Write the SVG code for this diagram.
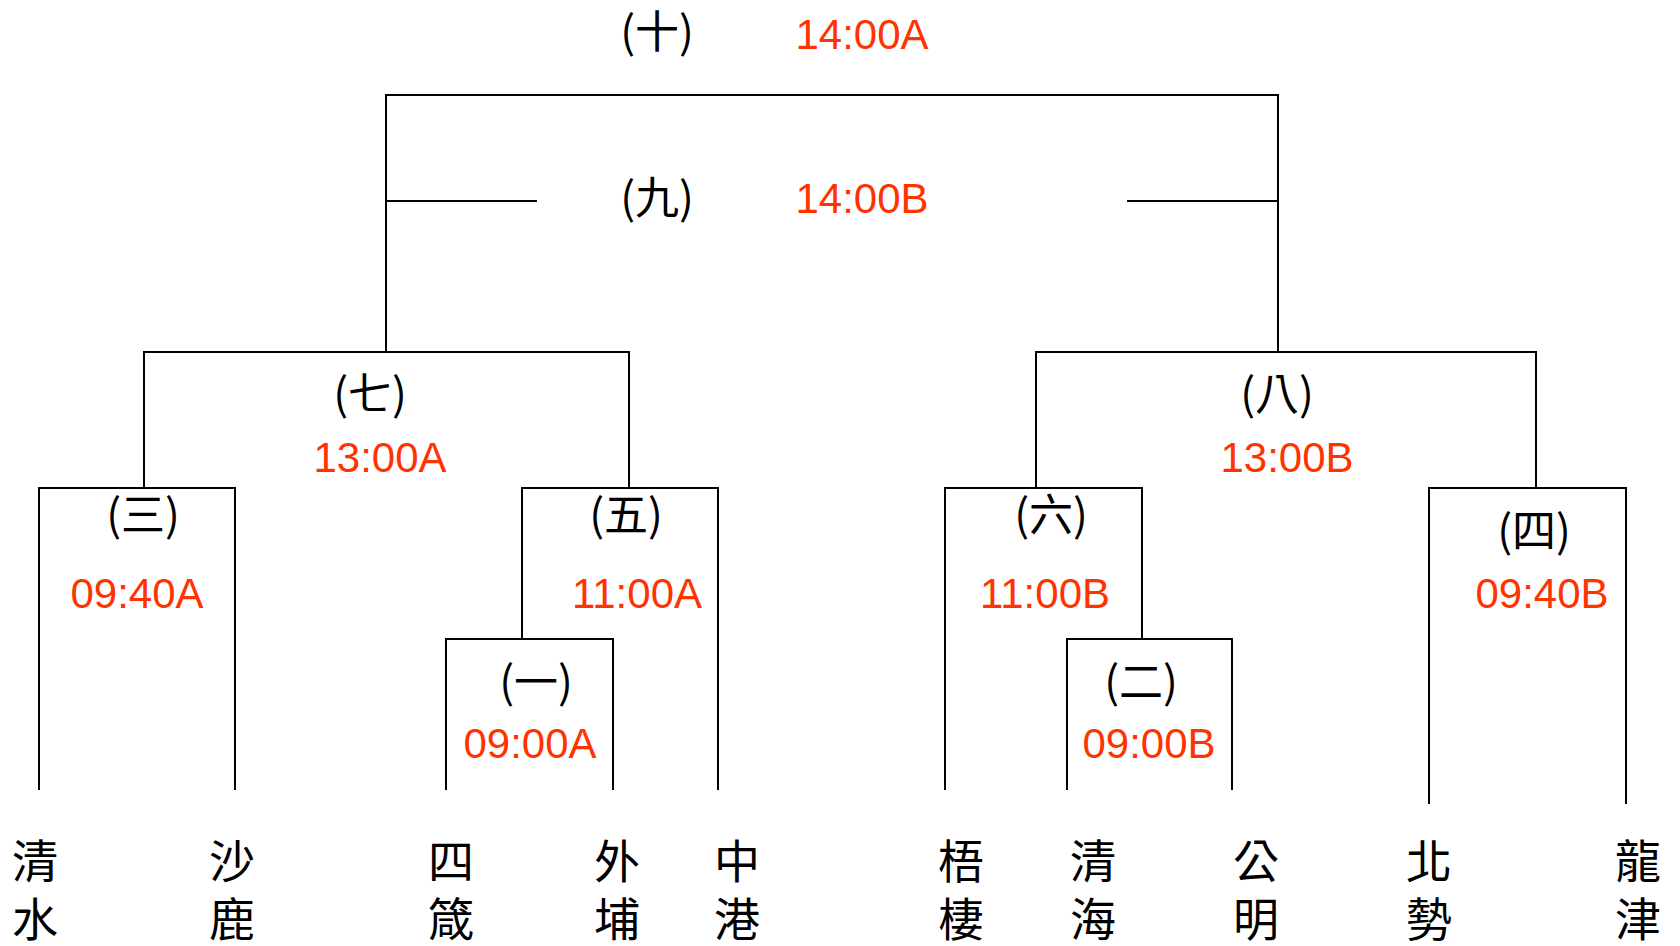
<svg xmlns="http://www.w3.org/2000/svg" width="1680" height="946" viewBox="0 0 1680 946">
<style>
.ln{fill:none;stroke:#000;stroke-width:2}
.lb{font-family:"Noto Sans CJK TC","Noto Sans CJK SC",sans-serif;font-size:44px;fill:#000;text-anchor:middle}
.tm{font-family:"Liberation Sans",Arial,sans-serif;font-size:42px;fill:#ff3300;text-anchor:middle}
.nm{font-family:"Noto Sans CJK TC","Noto Sans CJK SC",sans-serif;font-size:46px;fill:#000;text-anchor:middle}
</style>
<rect width="1680" height="946" fill="#fff"/>
<g id="connectors">
<path class="ln" d="M386,352V95H1278V352"/>
<path class="ln" d="M386,201H537M1127,201H1278"/>
<path class="ln" d="M144,488V352H629V488"/>
<path class="ln" d="M39,790V488H235V790"/>
<path class="ln" d="M522,639V488H718V790"/>
<path class="ln" d="M446,790V639H613V790"/>
<path class="ln" d="M1036,488V352H1536V488"/>
<path class="ln" d="M945,790V488H1142V639"/>
<path class="ln" d="M1067,790V639H1232V790"/>
<path class="ln" d="M1429,804V488H1626V804"/>
</g>
<g id="m10"><text class="lb" x="657" y="48">(十)</text><text class="tm" x="862" y="49">14:00A</text></g>
<g id="m9"><text class="lb" x="657" y="214">(九)</text><text class="tm" x="862" y="213">14:00B</text></g>
<g id="m7"><text class="lb" x="370" y="410">(七)</text><text class="tm" x="380" y="472">13:00A</text></g>
<g id="m8"><text class="lb" x="1277" y="410">(八)</text><text class="tm" x="1287" y="472">13:00B</text></g>
<g id="m3"><text class="lb" x="143" y="531">(三)</text><text class="tm" x="137" y="608">09:40A</text></g>
<g id="m5"><text class="lb" x="626" y="531">(五)</text><text class="tm" x="637" y="608">11:00A</text></g>
<g id="m6"><text class="lb" x="1051" y="531">(六)</text><text class="tm" x="1045" y="608">11:00B</text></g>
<g id="m4"><text class="lb" x="1534" y="547">(四)</text><text class="tm" x="1542" y="608">09:40B</text></g>
<g id="m1"><text class="lb" x="536" y="698">(一)</text><text class="tm" x="530" y="758">09:00A</text></g>
<g id="m2"><text class="lb" x="1141" y="698">(二)</text><text class="tm" x="1149" y="758">09:00B</text></g>
<g id="t1"><text class="nm" x="35" y="878">清</text><text class="nm" x="35" y="936">水</text></g>
<g id="t2"><text class="nm" x="232" y="878">沙</text><text class="nm" x="232" y="936">鹿</text></g>
<g id="t3"><text class="nm" x="451" y="878">四</text><text class="nm" x="451" y="936">箴</text></g>
<g id="t4"><text class="nm" x="617" y="878">外</text><text class="nm" x="617" y="936">埔</text></g>
<g id="t5"><text class="nm" x="737" y="878">中</text><text class="nm" x="737" y="936">港</text></g>
<g id="t6"><text class="nm" x="961" y="878">梧</text><text class="nm" x="961" y="936">棲</text></g>
<g id="t7"><text class="nm" x="1093" y="878">清</text><text class="nm" x="1093" y="936">海</text></g>
<g id="t8"><text class="nm" x="1256" y="878">公</text><text class="nm" x="1256" y="936">明</text></g>
<g id="t9"><text class="nm" x="1429" y="878">北</text><text class="nm" x="1429" y="936">勢</text></g>
<g id="t10"><text class="nm" x="1638" y="878">龍</text><text class="nm" x="1638" y="936">津</text></g>
</svg>
